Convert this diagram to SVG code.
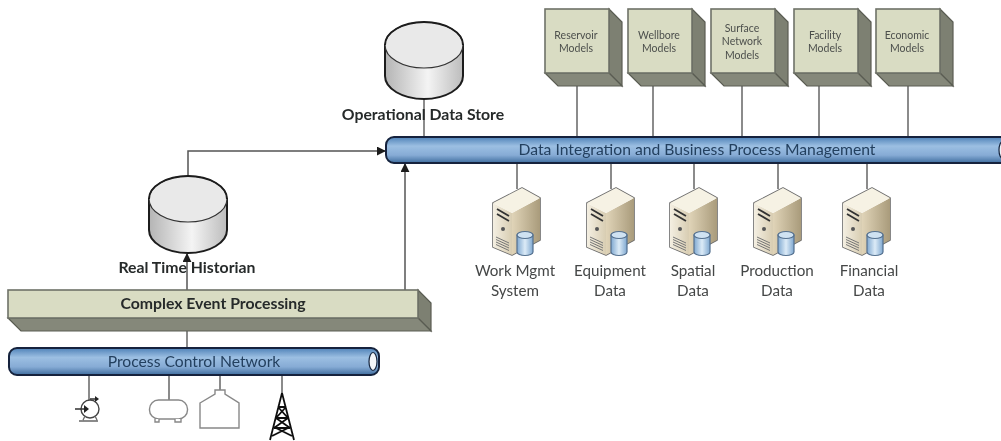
<svg xmlns="http://www.w3.org/2000/svg" width="1001" height="441" viewBox="0 0 1001 441">
<style>
text{font-family:Lato,"Open Sans","Liberation Sans",sans-serif;text-anchor:middle}
.front{fill:#d9dcc3;stroke:#6f7268;stroke-width:1.6}
.side{fill:#7d8072;stroke:#5a5c52;stroke-width:1.2}
.under{fill:#85887a;stroke:#5a5c52;stroke-width:1.2}
.m{font-size:10.5px;fill:#4c4f4c}
.b{font-size:15.800px;font-weight:700;fill:#262a2a}
.bus{font-size:15.700px;fill:#24405f}
.s{font-size:15.200px;fill:#454747}
.line{fill:none;stroke:#666;stroke-width:1.5}
.arrowline{fill:none;stroke:#555;stroke-width:1.5}
.cyl{fill:url(#cylBody);stroke:#1c1c1c;stroke-width:2}
.top{fill:#e9e9e9;stroke:#333;stroke-width:1.2}
.pipe{fill:url(#pipe);stroke:#14233c;stroke-width:2}
.eq{fill:#fff;stroke:#888;stroke-width:1.4}
</style>
<defs>
<filter id="soft" filterUnits="userSpaceOnUse" x="0" y="0" width="1001" height="441"><feGaussianBlur stdDeviation="0.45"/></filter>
<linearGradient id="cylBody" x1="0" x2="1" y1="0" y2="0"><stop offset="0" stop-color="#b4b4b4"/><stop offset=".55" stop-color="#f4f4f4"/><stop offset="1" stop-color="#bcbcbc"/></linearGradient>
<linearGradient id="pipe" x1="0" x2="0" y1="0" y2="1"><stop offset="0" stop-color="#4f82b8"/><stop offset=".35" stop-color="#9cbfe2"/><stop offset=".7" stop-color="#86abd5"/><stop offset="1" stop-color="#3f6d9e"/></linearGradient>
<linearGradient id="srvFront" x1="0" x2="1" y1="0" y2="0"><stop offset="0" stop-color="#f4efe2"/><stop offset="1" stop-color="#d8cdb2"/></linearGradient>
<linearGradient id="srvSide" x1="0" x2="1" y1="0" y2="0"><stop offset="0" stop-color="#e0d4b8"/><stop offset="1" stop-color="#a99b7b"/></linearGradient>
<linearGradient id="dbBlue" x1="0" x2="1" y1="0" y2="0"><stop offset="0" stop-color="#7fa8d0"/><stop offset=".5" stop-color="#dcebf7"/><stop offset="1" stop-color="#7fa8d0"/></linearGradient>
<marker id="arrow" viewBox="0 0 10 10" refX="9" refY="5" markerWidth="9" markerHeight="9" markerUnits="userSpaceOnUse" orient="auto"><path d="M0 0L10 5L0 10Z" fill="#1a1a1a"/></marker>
<g id="server">
<path d="M-24 -52L5 -67L23 -57V-15L-5 0L-24 -8Z" fill="#fff" stroke="#6a6a6a" stroke-width="1.6" stroke-linejoin="round"/>
<path d="M-24 -52L-5 -42V0L-24 -8Z" fill="url(#srvFront)"/>
<path d="M-5 -42L23 -57V-15L-5 0Z" fill="url(#srvSide)"/>
<path d="M-24 -52L5 -67L23 -57L-5 -42Z" fill="#f6f2e4"/>
<path d="M-20 -46L-8 -39M-20 -41L-8 -34" stroke="#333" stroke-width="1.800"/>
<circle cx="-14" cy="-26" r="2" fill="#555"/>
<path d="M-21 -18L-8 -12M-21 -15.500L-8 -9.500M-21 -13L-8 -7M-21 -10.500L-8 -4.500" stroke="#777" stroke-width="1"/>
<path d="M0 -20V-3A8 3.500 0 0 0 16 -3V-20Z" fill="url(#dbBlue)" stroke="#54708f" stroke-width="1.200"/>
<ellipse cx="8" cy="-20" rx="8" ry="3.500" fill="#cfe2f2" stroke="#54708f" stroke-width="1.200"/>
</g>
</defs>
<g filter="url(#soft)">
<g id="connectors">
<path class="line" d="M577 86V137M653 86V137M742 86V137M819 86V137M908 86V137"/>
<path class="line" d="M517 163V189M611 163V189M694 163V189M778 163V189M867 163V189"/>
<path class="line" d="M424 99V137"/>
<path class="arrowline" d="M188 176V151H385" marker-end="url(#arrow)"/>
<path class="arrowline" d="M405 290V164" marker-end="url(#arrow)"/>
<path class="arrowline" d="M187 290V254" marker-end="url(#arrow)"/>
<path class="line" d="M187 331V348"/>
<path class="line" d="M89 375V400M169 375V400M220 375V390M282 375V395"/>
</g>
<g id="reservoir-models"><path class="side" d="M609 9L622 22V86L609 73Z"/><path class="under" d="M545 73H609L622 86H558Z"/><rect class="front" x="545" y="9" width="64" height="64"/><text class="m" x="576" y="39">Reservoir</text><text class="m" x="576" y="52">Models</text></g>
<g id="wellbore-models"><path class="side" d="M692 9L705 22V86L692 73Z"/><path class="under" d="M628 73H692L705 86H641Z"/><rect class="front" x="628" y="9" width="64" height="64"/><text class="m" x="659" y="39">Wellbore</text><text class="m" x="659" y="52">Models</text></g>
<g id="surface-network-models"><path class="side" d="M775 9L788 22V86L775 73Z"/><path class="under" d="M711 73H775L788 86H724Z"/><rect class="front" x="711" y="9" width="64" height="64"/><text class="m" x="742" y="32">Surface</text><text class="m" x="742" y="45">Network</text><text class="m" x="742" y="59">Models</text></g>
<g id="facility-models"><path class="side" d="M858 9L871 22V86L858 73Z"/><path class="under" d="M794 73H858L871 86H807Z"/><rect class="front" x="794" y="9" width="64" height="64"/><text class="m" x="825" y="39">Facility</text><text class="m" x="825" y="52">Models</text></g>
<g id="economic-models"><path class="side" d="M940 9L953 22V86L940 73Z"/><path class="under" d="M876 73H940L953 86H889Z"/><rect class="front" x="876" y="9" width="64" height="64"/><text class="m" x="907" y="39">Economic</text><text class="m" x="907" y="52">Models</text></g>
<g id="operational-data-store"><path class="cyl" d="M385 45V76A39 23 0 0 0 463 76V45Z"/><ellipse class="top" cx="424" cy="45" rx="39" ry="23"/><path d="M385 45A39 23 0 0 1 463 45" fill="none" stroke="#1c1c1c" stroke-width="2"/><text class="b" x="423" y="120">Operational Data Store</text></g>
<g id="data-integration-bus"><rect class="pipe" x="386" y="137" width="630" height="26" rx="8"/><ellipse cx="1003" cy="150" rx="4" ry="9" fill="#eef3f8" stroke="#14233c" stroke-width="1.200"/><text class="bus" x="697" y="155">Data Integration and Business Process Management</text></g>
<g id="real-time-historian"><path class="cyl" d="M149 199V230A39 23 0 0 0 227 230V199Z"/><ellipse class="top" cx="188" cy="199" rx="39" ry="23"/><path d="M149 199A39 23 0 0 1 227 199" fill="none" stroke="#1c1c1c" stroke-width="2"/><text class="b" x="187" y="273">Real Time Historian</text></g>
<g id="complex-event-processing"><path class="side" d="M418 290L431 303V331L418 318Z"/><path class="under" d="M8 318H418L431 331H21Z"/><rect class="front" x="8" y="290" width="410" height="28"/><text class="b" x="213" y="309">Complex Event Processing</text></g>
<g id="process-control-network"><rect class="pipe" x="9" y="348" width="370" height="27" rx="8"/><ellipse cx="373" cy="361.500" rx="4" ry="9" fill="#f4f6f9" stroke="#14233c" stroke-width="1.200"/><text class="bus" x="194" y="367">Process Control Network</text></g>
<g id="work-mgmt-system"><use href="#server" x="517" y="255"/><text class="s" x="515" y="276">Work Mgmt</text><text class="s" x="515" y="296">System</text></g>
<g id="equipment-data"><use href="#server" x="611" y="255"/><text class="s" x="610" y="276">Equipment</text><text class="s" x="610" y="296">Data</text></g>
<g id="spatial-data"><use href="#server" x="694" y="255"/><text class="s" x="693" y="276">Spatial</text><text class="s" x="693" y="296">Data</text></g>
<g id="production-data"><use href="#server" x="778" y="255"/><text class="s" x="777" y="276">Production</text><text class="s" x="777" y="296">Data</text></g>
<g id="financial-data"><use href="#server" x="867" y="255"/><text class="s" x="869" y="276">Financial</text><text class="s" x="869" y="296">Data</text></g>
<g id="pump"><circle cx="90" cy="409" r="9" fill="#fff" stroke="#444" stroke-width="1.400"/><path d="M75 409H85M90 399H97" stroke="#333" stroke-width="1.300" fill="none"/><path d="M84 405L89 409L84 413Z" fill="#222"/><path d="M95 396L99 399L95 402Z" fill="#222"/><path d="M79 421H98M83 420L85 416M97 420L95 416" stroke="#666" stroke-width="1.300" fill="none"/></g>
<g id="tank"><rect class="eq" x="149.500" y="400" width="38" height="19" rx="9"/><path class="eq" d="M155 419V422H159V419M175 419V422H181V419"/></g>
<g id="vessel"><path class="eq" d="M200 403L215 394V390H225V394L239 403V428H200Z"/></g>
<g id="tower"><path d="M282 393L270 440M282 393L294 440M276 418H288M274 428H290M278 407H286M272 436L288 428M292 436L276 428M274 428L288 418M290 428L276 418M276 418L286 407M288 418L278 407" stroke="#111" stroke-width="1.800" fill="none"/></g>
</g>
</svg>
